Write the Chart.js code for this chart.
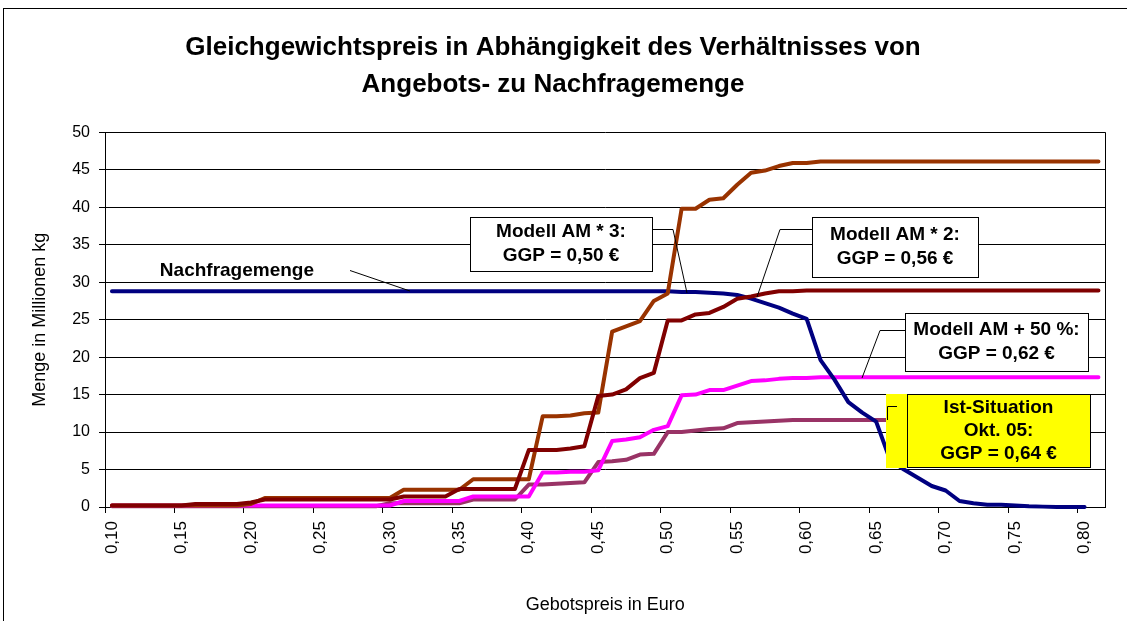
<!DOCTYPE html>
<html>
<head>
<meta charset="utf-8">
<script src="https://cdn.jsdelivr.net/npm/chart.js@4.4.0/dist/chart.umd.min.js"></script>
<style>
  html, body { margin: 0; padding: 0; background: #fff; }
  #wrap { width: 1127px; height: 621px; }
</style>
</head>
<body>
<div id="wrap"><canvas id="chart" width="1127" height="621"></canvas></div>
<script>
// Gebotspreise (Kategorien)
const preise = ['0,10','0,11','0,12','0,13','0,14','0,15','0,16','0,17','0,18','0,19',
  '0,20','0,21','0,22','0,23','0,24','0,25','0,26','0,27','0,28','0,29',
  '0,30','0,31','0,32','0,33','0,34','0,35','0,36','0,37','0,38','0,39',
  '0,40','0,41','0,42','0,43','0,44','0,45','0,46','0,47','0,48','0,49',
  '0,50','0,51','0,52','0,53','0,54','0,55','0,56','0,57','0,58','0,59',
  '0,60','0,61','0,62','0,63','0,64','0,65','0,66','0,67','0,68','0,69',
  '0,70','0,71','0,72','0,73','0,74','0,75','0,76','0,77','0,78','0,79',
  '0,80','0,81'];

// Nachfragemenge (Mio kg)
const nachfrage = [28.8,28.8,28.8,28.8,28.8,28.8,28.8,28.8,28.8,28.8,
  28.8,28.8,28.8,28.8,28.8,28.8,28.8,28.8,28.8,28.8,
  28.8,28.8,28.8,28.8,28.8,28.8,28.8,28.8,28.8,28.8,
  28.8,28.8,28.8,28.8,28.8,28.8,28.8,28.8,28.8,28.8,
  28.8,28.7,28.7,28.6,28.5,28.3,27.8,27.2,26.6,25.8,
  25.1,19.6,17.0,14.0,12.6,11.4,6.3,5.0,3.9,2.8,
  2.2,0.8,0.5,0.3,0.3,0.2,0.1,0.05,0,0,
  0,null];

// Modell AM * 3
const am3 = [0.2,0.2,0.2,0.2,0.2,0.2,0.2,0.2,0.2,0.2,
  0.4,1.2,1.2,1.2,1.2,1.2,1.2,1.2,1.2,1.2,
  1.2,2.3,2.3,2.3,2.3,2.3,3.7,3.7,3.7,3.7,
  3.7,12.1,12.1,12.2,12.5,12.6,23.4,24.1,24.8,27.5,
  28.5,39.8,39.8,41.0,41.2,43.0,44.6,44.9,45.5,45.9,
  45.9,46.1,46.1,46.1,46.1,46.1,46.1,46.1,46.1,46.1,
  46.1,46.1,46.1,46.1,46.1,46.1,46.1,46.1,46.1,46.1,
  46.1,46.1];

// Modell AM * 2
const am2 = [0.2,0.2,0.2,0.2,0.2,0.2,0.4,0.4,0.4,0.4,
  0.6,1.0,1.0,1.0,1.0,1.0,1.0,1.0,1.0,1.0,
  1.0,1.4,1.4,1.4,1.4,2.4,2.4,2.4,2.4,2.4,
  7.6,7.6,7.6,7.8,8.1,14.8,15.0,15.7,17.2,17.9,
  24.9,24.9,25.7,25.9,26.7,27.8,28.1,28.5,28.8,28.8,
  28.9,28.9,28.9,28.9,28.9,28.9,28.9,28.9,28.9,28.9,
  28.9,28.9,28.9,28.9,28.9,28.9,28.9,28.9,28.9,28.9,
  28.9,28.9];

// Modell AM + 50 %
const am50 = [0.2,0.2,0.2,0.2,0.2,0.2,0.2,0.2,0.2,0.2,
  0.2,0.2,0.2,0.2,0.2,0.2,0.2,0.2,0.2,0.2,
  0.2,0.8,0.8,0.8,0.8,0.8,1.4,1.4,1.4,1.4,
  1.4,4.6,4.6,4.7,4.7,4.9,8.8,9.0,9.3,10.3,
  10.8,14.9,15.0,15.6,15.6,16.2,16.8,16.9,17.1,17.2,
  17.2,17.3,17.3,17.3,17.3,17.3,17.3,17.3,17.3,17.3,
  17.3,17.3,17.3,17.3,17.3,17.3,17.3,17.3,17.3,17.3,
  17.3,17.3];

// Ist-Situation Okt. 05
const ist = [0.1,0.1,0.1,0.1,0.1,0.1,0.1,0.1,0.1,0.1,
  0.1,0.1,0.1,0.1,0.1,0.1,0.1,0.1,0.1,0.1,
  0.5,0.5,0.5,0.5,0.5,0.5,1.0,1.0,1.0,1.0,
  3.0,3.0,3.1,3.2,3.3,6.0,6.1,6.3,7.0,7.1,
  10.0,10.0,10.2,10.4,10.5,11.2,11.3,11.4,11.5,11.6,
  11.6,11.6,11.6,11.6,11.6,11.6,11.6,null,null,null,
  null,null,null,null,null,null,null,null,null,null,
  null,null];

const schrift = "'Liberation Sans', Arial, sans-serif";

// Rahmen um Diagramm und Zeichenfläche
const rahmen = {
  id: 'rahmen',
  beforeDatasetsDraw(chart) {
    const {ctx, chartArea} = chart;
    ctx.save();
    ctx.strokeStyle = '#000';
    ctx.lineWidth = 1;
    ctx.beginPath();
    ctx.moveTo(Math.round(chartArea.right) + 0.5, chartArea.top);
    ctx.lineTo(Math.round(chartArea.right) + 0.5, chartArea.bottom);
    ctx.stroke();
    ctx.strokeRect(3.5, 8.5, 1300, 800);
    ctx.restore();
  }
};

// Beschriftungen mit Hinweislinien
const notizen = {
  id: 'notizen',
  afterDatasetsDraw(chart) {
    const ctx = chart.ctx;
    ctx.save();
    ctx.strokeStyle = '#000';
    ctx.lineWidth = 1;
    const linie = (pts) => {
      ctx.beginPath();
      ctx.moveTo(pts[0][0], pts[0][1]);
      for (let i = 1; i < pts.length; i++) ctx.lineTo(pts[i][0], pts[i][1]);
      ctx.stroke();
    };
    const box = (x, y, w, h, zeilen, fill, dy) => {
      ctx.fillStyle = fill;
      ctx.fillRect(x, y, w, h);
      ctx.strokeRect(x + 0.5, y + 0.5, w, h);
      ctx.fillStyle = '#000';
      ctx.font = 'bold 19px ' + schrift;
      ctx.textAlign = 'center';
      ctx.textBaseline = 'middle';
      const start = y + h / 2 - (zeilen.length - 1) * dy / 2;
      zeilen.forEach((t, i) => ctx.fillText(t, x + w / 2, start + i * dy));
    };

    // Nachfragemenge
    linie([[350, 270.5], [410, 291]]);
    ctx.fillStyle = '#000';
    ctx.font = 'bold 19px ' + schrift;
    ctx.textAlign = 'right';
    ctx.textBaseline = 'middle';
    ctx.fillText('Nachfragemenge', 314, 271);

    // Modell AM * 3
    linie([[652, 229.5], [673, 229.5], [687, 293]]);
    box(470, 217, 182, 54, ['Modell AM * 3:', 'GGP = 0,50 €'], '#fff', 24);

    // Modell AM * 2
    linie([[812, 229.5], [780, 229.5], [757, 297]]);
    box(812, 217, 166, 60, ['Modell AM * 2:', 'GGP = 0,56 €'], '#fff', 24);

    // Modell AM + 50 %
    linie([[905, 330.5], [880, 330.5], [862, 378]]);
    box(905, 313, 183, 58, ['Modell AM + 50 %:', 'GGP = 0,62 €'], '#fff', 24);

    // Ist-Situation
    ctx.fillStyle = '#ffff00';
    ctx.fillRect(886, 394, 22, 74);
    box(907, 394, 183, 73, ['Ist-Situation', 'Okt. 05:', 'GGP = 0,64 €'], '#ffff00', 23);
    linie([[897, 406.5], [887.5, 406.5], [887.5, 420]]);

    ctx.restore();
  }
};

const linienStil = (farbe) => ({
  borderColor: farbe,
  backgroundColor: farbe,
  borderWidth: 4,
  pointRadius: 0,
  tension: 0,
  fill: false,
  clip: 6,
  borderJoinStyle: 'round',
  borderCapStyle: 'round'
});

const ctx = document.getElementById('chart');
const chart = new Chart(ctx, {
  type: 'line',
  data: {
    labels: preise,
    datasets: [
      Object.assign({ label: 'Modell AM * 2', data: am2 }, linienStil('#800000')),
      Object.assign({ label: 'Modell AM * 3', data: am3 }, linienStil('#993300')),
      Object.assign({ label: 'Nachfragemenge', data: nachfrage }, linienStil('#000080')),
      Object.assign({ label: 'Modell AM + 50 %', data: am50 }, linienStil('#ff00ff')),
      Object.assign({ label: 'Ist-Situation', data: ist }, linienStil('#993366'))
    ]
  },
  options: {
    responsive: false,
    animation: false,
    layout: { padding: { left: 0, top: 10, right: 21, bottom: 0 } },
    plugins: {
      legend: { display: false },
      tooltip: { enabled: false },
      title: {
        display: true,
        text: ['Gleichgewichtspreis in Abhängigkeit des Verhältnisses von', 'Angebots- zu Nachfragemenge'],
        color: '#000',
        font: { family: schrift, size: 26, weight: 'bold', lineHeight: 1.42 },
        padding: { top: 19.5, bottom: 29 }
      }
    },
    scales: {
      x: {
        type: 'category',
        offset: true,
        grid: {
          offset: true,
          drawOnChartArea: false,
          tickLength: 6,
          color: (c) => (c.index % 5 === 0 ? '#000' : 'rgba(0,0,0,0)')
        },
        border: { color: '#000', width: 1 },
        ticks: {
          autoSkip: false,
          minRotation: 90,
          maxRotation: 90,
          padding: 8,
          color: '#000',
          font: { family: schrift, size: 17 },
          callback: (v, i) => (i % 5 === 0 ? preise[i] : '')
        },
        title: {
          display: true,
          text: 'Gebotspreis in Euro',
          color: '#000',
          font: { family: schrift, size: 18 },
          padding: { top: 0, bottom: 5 }
        },
        afterFit: (s) => { s.height = 114; }
      },
      y: {
        min: 0,
        max: 50,
        grid: { color: '#000', tickLength: 6 },
        border: { color: '#000', width: 1 },
        ticks: {
          stepSize: 5,
          padding: 9,
          color: '#000',
          font: { family: schrift, size: 16 }
        },
        title: {
          display: true,
          text: 'Menge in Millionen kg',
          color: '#000',
          font: { family: schrift, size: 18 },
          padding: { top: 29, bottom: 0 }
        },
        afterFit: (s) => { s.width = 105; }
      }
    }
  },
  plugins: [rahmen, notizen]
});
</script>
</body>
</html>
